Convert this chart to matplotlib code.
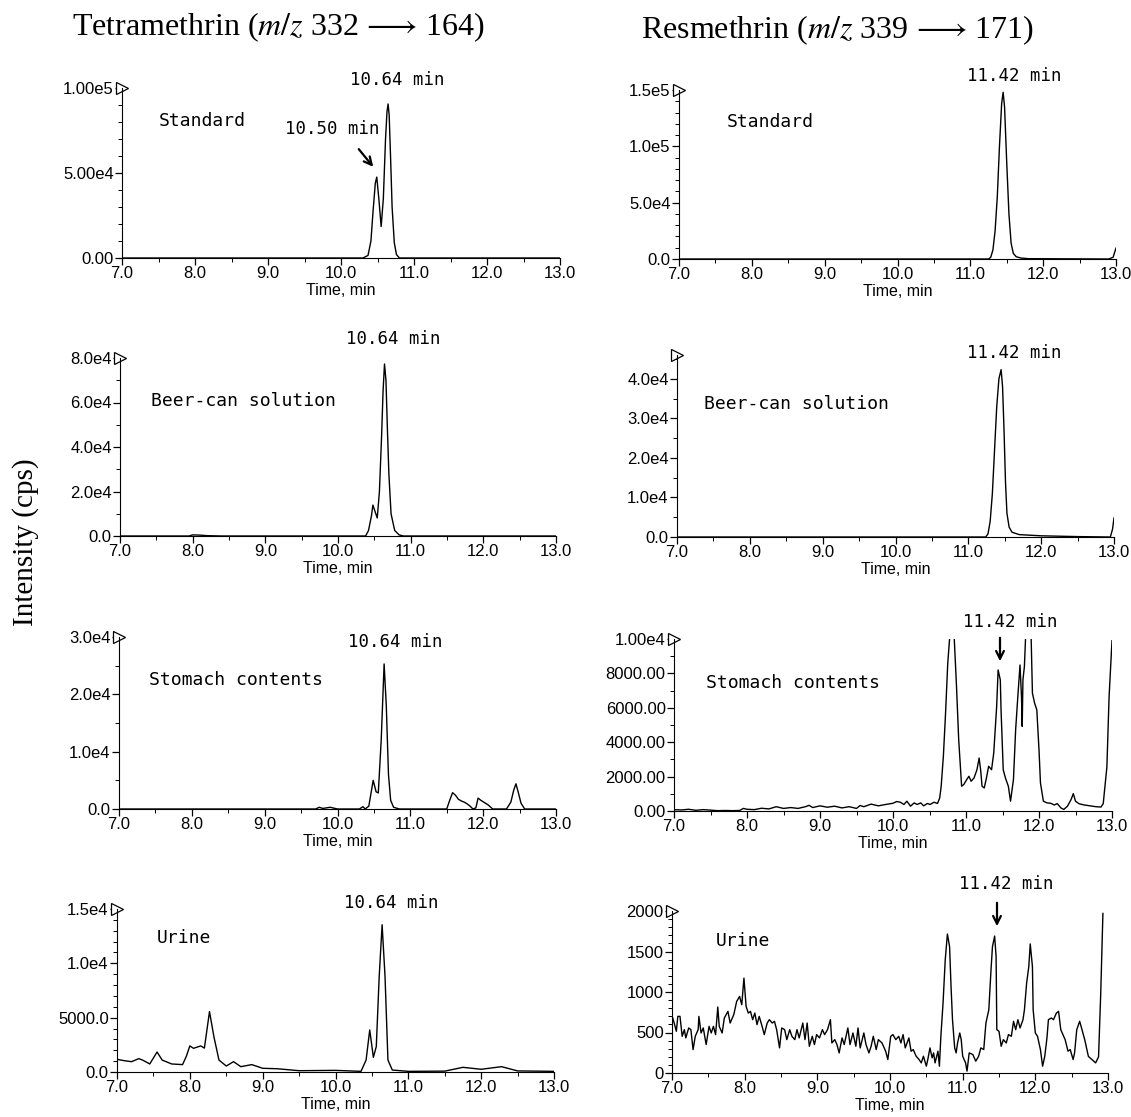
import matplotlib
matplotlib.use('Agg')
import matplotlib.pyplot as plt
from matplotlib.ticker import FixedLocator, FixedFormatter, MultipleLocator

plt.rcParams['font.family'] = ['Liberation Sans', 'DejaVu Sans']
plt.rcParams['mathtext.fontset'] = 'stix'

W, H = 1131, 1117

# ---- data (time in min, intensity in cps) ----
time_ticks = [7.0, 8.0, 9.0, 10.0, 11.0, 12.0, 13.0]
time_labels = ['7.0', '8.0', '9.0', '10.0', '11.0', '12.0', '13.0']

# Tetramethrin, standard
tet_std_t = [7.0, 10.30, 10.37, 10.41, 10.44, 10.47, 10.49, 10.52, 10.55, 10.58, 10.61,
             10.63, 10.645, 10.66, 10.68, 10.70, 10.73, 10.76, 10.80, 13.0]
tet_std_i = [0, 0, 1500, 10000, 28000, 44000, 47600, 34000, 18500, 35000, 70000,
             86000, 90600, 84000, 58000, 30000, 9000, 2000, 0, 0]

# Resmethrin, standard
res_std_t = [7.0, 11.25, 11.28, 11.31, 11.34, 11.37, 11.40, 11.43, 11.45, 11.47, 11.50,
             11.53, 11.56, 11.59, 11.63, 11.70, 11.80, 12.90, 12.96, 13.0]
res_std_i = [0, 0, 1500, 8000, 25000, 55000, 100000, 138000, 148000, 135000, 85000,
             40000, 14000, 5000, 2000, 800, 300, 0, 1500, 9700]

# Tetramethrin, beer-can solution
tet_beer_t = [7.0, 7.95, 8.0, 8.1, 8.2, 8.4, 10.38, 10.42, 10.46, 10.48, 10.51, 10.54,
              10.57, 10.60, 10.62, 10.64, 10.66, 10.68, 10.70, 10.73, 10.78, 10.84, 10.90, 13.0]
tet_beer_i = [0, 0, 500, 400, 150, 0, 0, 2500, 9000, 13900, 11000, 8100,
              20000, 45000, 65000, 77300, 70000, 48000, 28000, 10000, 2500, 500, 0, 0]

# Resmethrin, beer-can solution
res_beer_t = [7.0, 11.24, 11.27, 11.30, 11.33, 11.36, 11.39, 11.42, 11.45, 11.47, 11.49,
              11.51, 11.53, 11.56, 11.60, 11.70, 12.0, 12.5, 12.95, 12.98, 13.0]
res_beer_i = [0, 0, 800, 4000, 11000, 22000, 33000, 40000, 42300, 38000, 27000,
              14000, 6000, 2500, 1200, 600, 300, 100, 0, 2000, 4800]

# Tetramethrin, stomach contents
tet_sto_t = [7.0, 9.70, 9.75, 9.80, 9.90, 9.95, 10.0, 10.30, 10.35, 10.38, 10.43, 10.47,
             10.49, 10.53, 10.56, 10.60, 10.64, 10.67, 10.70, 10.73, 10.77, 10.85, 11.50,
             11.54, 11.58, 11.62, 11.66, 11.70, 11.74, 11.78, 11.82, 11.86, 11.90, 11.93,
             11.97, 12.02, 12.07, 12.13, 12.32, 12.38, 12.42, 12.45, 12.48, 12.52, 12.57, 13.0]
tet_sto_i = [0, 0, 300, 100, 300, 150, 0, 0, 400, 0, 500, 3500,
             5000, 3000, 2800, 12000, 25300, 18000, 6000, 1500, 300, 0, 0,
             1500, 2850, 2400, 1700, 1400, 1200, 900, 500, 0, 200, 1900,
             1500, 1100, 700, 0, 0, 1200, 3300, 4400, 3000, 1000, 0, 0]

# Resmethrin, stomach contents (peaks at 10.8, 11.85 and 13.0 go off scale)
res_sto_t = [7.0, 7.1, 7.2, 7.3, 7.4, 7.5, 7.6, 7.7, 7.8, 7.9, 7.95, 8.0, 8.1, 8.2, 8.3,
             8.4, 8.5, 8.6, 8.7, 8.8, 8.85, 8.9, 9.0, 9.1, 9.2, 9.3, 9.4, 9.5, 9.55, 9.6,
             9.7, 9.8, 9.9, 10.0, 10.05, 10.10, 10.15, 10.19, 10.24, 10.29, 10.33, 10.38,
             10.42, 10.47, 10.51, 10.56, 10.61, 10.64, 10.66, 10.69, 10.72, 10.75, 10.78,
             10.81, 10.84, 10.87, 10.90, 10.94, 10.97, 11.01, 11.04, 11.07, 11.11, 11.15,
             11.18, 11.20, 11.22, 11.25, 11.28, 11.31, 11.35, 11.38, 11.42, 11.44, 11.47,
             11.48, 11.51, 11.54, 11.58, 11.61, 11.65, 11.68, 11.71, 11.74, 11.76, 11.77,
             11.78, 11.80, 11.82, 11.855, 11.89, 11.91, 11.94, 11.97, 12.00, 12.02, 12.06,
             12.11, 12.16, 12.21, 12.25, 12.30, 12.34, 12.39, 12.44, 12.47, 12.50, 12.55,
             12.62, 12.70, 12.78, 12.85, 12.88, 12.93, 12.96, 13.0]
res_sto_i = [80, 60, 100, 40, 80, 50, 20, 30, 20, 30, 150, 100, 80, 160, 120,
             250, 150, 200, 150, 250, 330, 200, 300, 220, 280, 180, 250, 150, 320, 250,
             400, 300, 380, 450, 550, 510, 380, 570, 280, 470, 380, 470,
             300, 435, 380, 510, 440, 760, 1440, 3180, 5690, 8590, 10300,
             14000, 9940, 7240, 4140, 1440, 1540, 1830, 2020, 1730, 1920, 2400,
             3080, 2400, 1440, 1340, 1920, 2600, 2400, 3370, 6080, 8200, 7620,
             5880, 2400, 1920, 1440, 570, 1830, 4720, 6660, 8490, 6660, 4920,
             7620, 8400, 10500, 13000, 10500, 6850, 6270, 5880, 3560, 1630, 570,
             470, 450, 350, 430, 180, 90, 280, 670, 1010, 570, 420,
             350, 300, 250, 230, 430, 2560, 6640, 9900]

# Tetramethrin, urine
tet_uri_t = [7.0, 7.1, 7.2, 7.3, 7.35, 7.45, 7.55, 7.62, 7.75, 7.9, 7.95, 8.0, 8.05, 8.15,
             8.2, 8.27, 8.33, 8.4, 8.5, 8.6, 8.7, 8.85, 9.0, 9.2, 9.5, 10.0, 10.35, 10.42,
             10.47, 10.52, 10.56, 10.60, 10.64, 10.68, 10.72, 10.78, 11.0, 11.5, 11.75,
             12.0, 12.28, 12.5, 13.0]
tet_uri_i = [1170, 1040, 950, 1230, 1100, 740, 1840, 1100, 740, 680, 1410, 2400, 2180, 2400,
             2200, 5560, 3260, 1100, 550, 950, 490, 680, 340, 300, 120, 150, 60, 1100,
             3870, 1350, 2340, 8790, 13550, 8790, 1100, 180, 60, 80, 430,
             250, 490, 100, 60]

# Resmethrin, urine
res_uri_t = [7.01, 7.03, 7.06, 7.08, 7.11, 7.14, 7.17, 7.19, 7.23, 7.26, 7.29, 7.32, 7.36,
             7.37, 7.40, 7.43, 7.47, 7.51, 7.54, 7.57, 7.60, 7.63, 7.65, 7.69, 7.72, 7.77,
             7.80, 7.85, 7.89, 7.93, 7.96, 7.99, 8.02, 8.05, 8.08, 8.11, 8.14, 8.17, 8.20,
             8.24, 8.27, 8.31, 8.34, 8.38, 8.41, 8.44, 8.48, 8.51, 8.55, 8.58, 8.62, 8.65,
             8.69, 8.72, 8.75, 8.80, 8.83, 8.86, 8.89, 8.93, 8.96, 8.99, 9.03, 9.07, 9.10,
             9.14, 9.18, 9.20, 9.24, 9.27, 9.30, 9.34, 9.37, 9.42, 9.45, 9.49, 9.53, 9.56,
             9.59, 9.64, 9.67, 9.71, 9.74, 9.77, 9.81, 9.84, 9.89, 9.94, 9.97, 10.01, 10.04,
             10.08, 10.12, 10.15, 10.18, 10.21, 10.26, 10.29, 10.32, 10.36, 10.40, 10.43,
             10.46, 10.50, 10.52, 10.55, 10.58, 10.60, 10.62, 10.66, 10.68, 10.70, 10.73,
             10.76, 10.79, 10.82, 10.84, 10.86, 10.89, 10.91, 10.93, 10.96, 10.98, 11.00,
             11.04, 11.06, 11.09, 11.14, 11.18, 11.22, 11.25, 11.29, 11.32, 11.36, 11.39,
             11.41, 11.44, 11.46, 11.47, 11.50, 11.53, 11.56, 11.60, 11.63, 11.67, 11.70,
             11.73, 11.76, 11.79, 11.83, 11.85, 11.88, 11.91, 11.93, 11.96, 11.97, 12.00,
             12.03, 12.07, 12.10, 12.13, 12.16, 12.18, 12.22, 12.25, 12.29, 12.32, 12.35,
             12.38, 12.41, 12.45, 12.48, 12.52, 12.54, 12.57, 12.61, 12.63, 12.68, 12.73,
             12.78, 12.83, 12.87, 12.90, 12.93]
res_uri_i = [679, 617, 515, 699, 699, 453, 535, 433, 556, 535, 289, 453, 535,
             699, 494, 556, 351, 576, 494, 576, 474, 814, 576, 494, 679, 761,
             617, 720, 884, 945, 843, 1171, 822, 740, 761, 658, 740, 597, 699,
             576, 474, 617, 658, 617, 638, 535, 310, 556, 535, 412, 535, 453,
             412, 535, 433, 617, 412, 617, 330, 453, 351, 474, 433, 535, 474,
             535, 658, 371, 412, 351, 248, 433, 351, 556, 351, 494, 330, 556,
             310, 494, 351, 248, 330, 453, 289, 412, 371, 269, 166, 453, 474,
             412, 453, 371, 474, 310, 433, 269, 289, 207, 166, 125,
             207, 84, 166, 310, 187, 248, 125, 269, 84, 453, 863,
             1396, 1716, 1560, 1068, 658, 310, 248, 371, 494, 412, 207,
             125, 23, 248, 228, 146, 207, 310, 289, 617, 781, 1273,
             1560, 1691, 1437, 535, 515, 330, 412, 371, 474, 453, 638,
             535, 658, 556, 658, 781, 1109, 1314, 1593, 1314, 781, 494,
             453, 289, 84, 207, 433, 658, 679, 658, 740, 761, 535,
             474, 412, 269, 289, 166, 248, 535, 638, 575, 410, 205,
             165, 125, 200, 985, 1970]

# y-axis ticks of each panel
tet_std_yt = [0, 5e4, 1e5]
tet_std_yl = ['0.00', '5.00e4', '1.00e5']
res_std_yt = [0, 5e4, 1e5, 1.5e5]
res_std_yl = ['0.0', '5.0e4', '1.0e5', '1.5e5']
tet_beer_yt = [0, 2e4, 4e4, 6e4, 8e4]
tet_beer_yl = ['0.0', '2.0e4', '4.0e4', '6.0e4', '8.0e4']
res_beer_yt = [0, 1e4, 2e4, 3e4, 4e4]
res_beer_yl = ['0.0', '1.0e4', '2.0e4', '3.0e4', '4.0e4']
tet_sto_yt = [0, 1e4, 2e4, 3e4]
tet_sto_yl = ['0.0', '1.0e4', '2.0e4', '3.0e4']
res_sto_yt = [0, 2000, 4000, 6000, 8000, 10000]
res_sto_yl = ['0.00', '2000.00', '4000.00', '6000.00', '8000.00', '1.00e4']
tet_uri_yt = [0, 5000, 10000, 15000]
tet_uri_yl = ['0.0', '5000.0', '1.0e4', '1.5e4']
res_uri_yt = [0, 500, 1000, 1500, 2000]
res_uri_yl = ['0', '500', '1000', '1500', '2000']

# ---- layout (pixel boxes: left, right, bottom, top) ----
fig = plt.figure(figsize=(W / 100, H / 100), dpi=100)


def px_axes(l, r, b, t):
    return fig.add_axes([l / W, 1 - b / H, (r - l) / W, (b - t) / H])


def fig_text(x, y, s, **kw):
    fig.text(x / W, 1 - y / H, s, **kw)


def fig_arrow(x0, y0, x1, y1):
    fig.patches.append(matplotlib.patches.FancyArrowPatch(
        (x0 / W, 1 - y0 / H), (x1 / W, 1 - y1 / H), transform=fig.transFigure,
        arrowstyle='->', mutation_scale=14, lw=1.6, color='black'))


panels = [
    ((122, 560, 258, 88), tet_std_t, tet_std_i, 1e5, tet_std_yt, tet_std_yl, 1e4),
    ((679, 1116, 259, 90), res_std_t, res_std_i, 1.5e5, res_std_yt, res_std_yl, 1e4),
    ((120, 556, 536, 358), tet_beer_t, tet_beer_i, 8e4, tet_beer_yt, tet_beer_yl, 1e4),
    ((677, 1114, 537, 355), res_beer_t, res_beer_i, 4.6e4, res_beer_yt, res_beer_yl, 5e3),
    ((119, 556, 809, 637), tet_sto_t, tet_sto_i, 3e4, tet_sto_yt, tet_sto_yl, 5e3),
    ((674, 1112, 811, 639), res_sto_t, res_sto_i, 1e4, res_sto_yt, res_sto_yl, 1e3),
    ((117, 554, 1072, 909), tet_uri_t, tet_uri_i, 1.5e4, tet_uri_yt, tet_uri_yl, 1e3),
    ((672, 1108, 1073, 911), res_uri_t, res_uri_i, 2000, res_uri_yt, res_uri_yl, 100),
]

for box, t, y, ytop, yt, yl, ymin in panels:
    ax = px_axes(*box)
    ax.plot(t, y, color='black', lw=1.0)
    ax.set_xlim(7.0, 13.0)
    ax.set_ylim(0, ytop)
    ax.spines['top'].set_visible(False)
    ax.spines['right'].set_visible(False)
    ax.xaxis.set_major_locator(FixedLocator(time_ticks))
    ax.xaxis.set_major_formatter(FixedFormatter(time_labels))
    ax.xaxis.set_minor_locator(MultipleLocator(0.5))
    ax.yaxis.set_major_locator(FixedLocator(yt))
    ax.yaxis.set_major_formatter(FixedFormatter(yl))
    ax.yaxis.set_minor_locator(MultipleLocator(ymin))
    ax.tick_params(which='major', direction='out', length=5, width=0.9, labelsize=12, pad=1)
    ax.tick_params(which='minor', direction='out', length=3, width=0.7)
    ax.set_xlabel('Time, min', fontsize=11.5, labelpad=1)
    ax.plot([0], [1], marker='>', ms=8, mfc='white', mec='black', mew=0.9,
            transform=ax.transAxes, clip_on=False)

# ---- titles and labels ----
serif = ['Liberation Serif', 'DejaVu Serif']
fig_text(278, 27, r'Tetramethrin ($m/z$ 332$\,\longrightarrow\,$164)', family=serif,
         size=23, ha='center', va='center')
fig_text(838, 30, r'Resmethrin ($m/z$ 339$\,\longrightarrow\,$171)', family=serif,
         size=23, ha='center', va='center')
fig_text(26, 542, 'Intensity (cps)', family=serif, size=21, rotation=90,
         ha='center', va='center')

mono = ['DejaVu Sans Mono']
names = [(202, 121, 'Standard'), (770, 122, 'Standard'),
         (243, 401, 'Beer-can solution'), (796, 404, 'Beer-can solution'),
         (236, 680, 'Stomach contents'), (793, 683, 'Stomach contents'),
         (184, 938, 'Urine'), (743, 941, 'Urine')]
for x, y, s in names:
    fig_text(x, y, s, family=mono, size=13, ha='center', va='center')

rt_labels = [(397, 80, '10.64 min'), (332, 129, '10.50 min'), (1014, 76, '11.42 min'),
             (393, 339, '10.64 min'), (1014, 353, '11.42 min'),
             (395, 642, '10.64 min'), (1010, 622, '11.42 min'),
             (391, 903, '10.64 min'), (1006, 884, '11.42 min')]
for x, y, s in rt_labels:
    fig_text(x, y, s, family=mono, size=12.5, ha='center', va='center')

fig_arrow(357, 147, 375, 169)
fig_arrow(1000, 635, 1000, 664)
fig_arrow(997, 900, 997, 929)

fig.savefig('out.png', dpi=100)
